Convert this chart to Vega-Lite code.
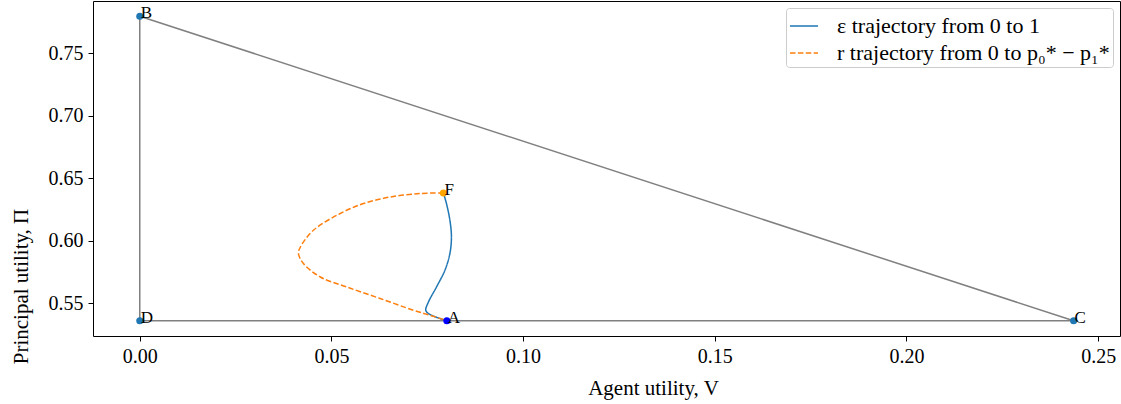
{
  "$schema": "https://vega.github.io/schema/vega-lite/v6.json",
  "width": 1027,
  "height": 335,
  "autosize": {"type": "none"},
  "padding": {"left": 93, "top": 1, "right": 1, "bottom": 68},
  "background": "white",
  "config": {
    "font": "Liberation Serif",
    "view": {"stroke": "black", "strokeWidth": 1},
    "axis": {"grid": false, "domain": false, "tickColor": "black", "tickSize": 5, "labelColor": "black", "labelFont": "Liberation Serif", "labelFontSize": 20, "titleFont": "Liberation Serif", "titleFontSize": 21, "titleFontWeight": "normal", "titleColor": "black", "labelPadding": 5}
  },
  "datasets": {
    "tri": [
      {"i": 0, "V": 0.0, "P": 0.7796},
      {"i": 1, "V": 0.2436, "P": 0.536},
      {"i": 2, "V": 0.0, "P": 0.536},
      {"i": 3, "V": 0.0, "P": 0.7796}
    ],
    "curves": [
      {"series": "ε trajectory from 0 to 1", "i": 0, "V": 0.0792, "P": 0.6382},
      {"series": "ε trajectory from 0 to 1", "i": 1, "V": 0.0800, "P": 0.6298},
      {"series": "ε trajectory from 0 to 1", "i": 2, "V": 0.0809, "P": 0.6164},
      {"series": "ε trajectory from 0 to 1", "i": 3, "V": 0.0813, "P": 0.6030},
      {"series": "ε trajectory from 0 to 1", "i": 4, "V": 0.0809, "P": 0.5898},
      {"series": "ε trajectory from 0 to 1", "i": 5, "V": 0.0796, "P": 0.5764},
      {"series": "ε trajectory from 0 to 1", "i": 6, "V": 0.0774, "P": 0.5630},
      {"series": "ε trajectory from 0 to 1", "i": 7, "V": 0.0753, "P": 0.5510},
      {"series": "ε trajectory from 0 to 1", "i": 8, "V": 0.0746, "P": 0.5444},
      {"series": "ε trajectory from 0 to 1", "i": 9, "V": 0.0753, "P": 0.5418},
      {"series": "ε trajectory from 0 to 1", "i": 10, "V": 0.0783, "P": 0.5378},
      {"series": "ε trajectory from 0 to 1", "i": 11, "V": 0.0800, "P": 0.5362},
      {"series": "r trajectory from 0 to p₀* − p₁*", "i": 0, "V": 0.0792, "P": 0.6382},
      {"series": "r trajectory from 0 to p₀* − p₁*", "i": 1, "V": 0.0731, "P": 0.6378},
      {"series": "r trajectory from 0 to p₀* − p₁*", "i": 2, "V": 0.0653, "P": 0.6350},
      {"series": "r trajectory from 0 to p₀* − p₁*", "i": 3, "V": 0.0584, "P": 0.6298},
      {"series": "r trajectory from 0 to p₀* − p₁*", "i": 4, "V": 0.0523, "P": 0.6218},
      {"series": "r trajectory from 0 to p₀* − p₁*", "i": 5, "V": 0.0453, "P": 0.6084},
      {"series": "r trajectory from 0 to p₀* − p₁*", "i": 6, "V": 0.0419, "P": 0.5950},
      {"series": "r trajectory from 0 to p₀* − p₁*", "i": 7, "V": 0.0414, "P": 0.5898},
      {"series": "r trajectory from 0 to p₀* − p₁*", "i": 8, "V": 0.0427, "P": 0.5818},
      {"series": "r trajectory from 0 to p₀* − p₁*", "i": 9, "V": 0.0471, "P": 0.5710},
      {"series": "r trajectory from 0 to p₀* − p₁*", "i": 10, "V": 0.0540, "P": 0.5630},
      {"series": "r trajectory from 0 to p₀* − p₁*", "i": 11, "V": 0.0627, "P": 0.5538},
      {"series": "r trajectory from 0 to p₀* − p₁*", "i": 12, "V": 0.0714, "P": 0.5444},
      {"series": "r trajectory from 0 to p₀* − p₁*", "i": 13, "V": 0.0757, "P": 0.5404},
      {"series": "r trajectory from 0 to p₀* − p₁*", "i": 14, "V": 0.0800, "P": 0.5362}
    ],
    "pts": [
      {"name": "B", "V": 0.0, "P": 0.7796},
      {"name": "C", "V": 0.2436, "P": 0.536},
      {"name": "D", "V": 0.0, "P": 0.536},
      {"name": "A", "V": 0.0801, "P": 0.536},
      {"name": "F", "V": 0.0792, "P": 0.6382}
    ]
  },
  "encoding": {
    "x": {"field": "V", "type": "quantitative", "scale": {"domain": [-0.0122, 0.2557], "nice": false, "zero": false},
      "axis": {"values": [0, 0.05, 0.1, 0.15, 0.2, 0.25], "format": ".2f", "title": "Agent utility, V", "titleX": 560, "titleY": 52, "titleAnchor": "middle", "titleBaseline": "middle"}},
    "y": {"field": "P", "type": "quantitative", "scale": {"domain": [0.5238, 0.7918], "nice": false, "zero": false},
      "axis": {"values": [0.55, 0.6, 0.65, 0.7, 0.75], "format": ".2f", "title": "Principal utility, Π", "titleX": -72, "titleY": 285, "titleAngle": -90, "titleAlign": "center", "titleBaseline": "middle"}}
  },
  "layer": [
    {
      "data": {"name": "tri"},
      "mark": {"type": "line", "color": "#808080", "strokeWidth": 1.5},
      "encoding": {"order": {"field": "i", "type": "quantitative"}}
    },
    {
      "data": {"name": "curves"},
      "mark": {"type": "line", "strokeWidth": 1.5, "interpolate": "catmull-rom"},
      "encoding": {
        "order": {"field": "i", "type": "quantitative"},
        "color": {"field": "series", "type": "nominal",
          "scale": {"domain": ["ε trajectory from 0 to 1", "r trajectory from 0 to p₀* − p₁*"], "range": ["#1f77b4", "#ff7f0e"]},
          "legend": {"title": null, "orient": "top-right", "offset": 7, "symbolType": "stroke", "symbolSize": 784, "symbolStrokeWidth": 1.5, "labelFont": "Liberation Serif", "labelFontSize": 22, "labelColor": "black", "strokeColor": "#cccccc", "fillColor": "white", "cornerRadius": 3, "padding": 3, "rowPadding": 1, "labelOffset": 18, "labelLimit": 400,
            "encode": {"symbols": {"update": {"strokeDash": {"scale": "strokeDash", "field": "value"}}}}}},
        "strokeDash": {"field": "series", "type": "nominal",
          "scale": {"domain": ["ε trajectory from 0 to 1", "r trajectory from 0 to p₀* − p₁*"], "range": [[1, 0], [5.5, 2.4]]},
          "legend": null}
      }
    },
    {
      "data": {"name": "pts"},
      "mark": {"type": "point", "filled": true, "size": 50, "opacity": 1},
      "encoding": {
        "color": {"field": "name", "type": "nominal", "scale": {"domain": ["B", "C", "D", "A", "F"], "range": ["#1f77b4", "#1f77b4", "#1f77b4", "#0000ff", "#ffa500"]}, "legend": null}
      }
    },
    {
      "data": {"name": "pts"},
      "mark": {"type": "text", "align": "left", "baseline": "alphabetic", "dx": 1, "dy": 2, "fontSize": 17, "font": "Liberation Serif", "color": "black"},
      "encoding": {"text": {"field": "name"}}
    }
  ],
  "resolve": {"scale": {"color": "independent"}}
}
